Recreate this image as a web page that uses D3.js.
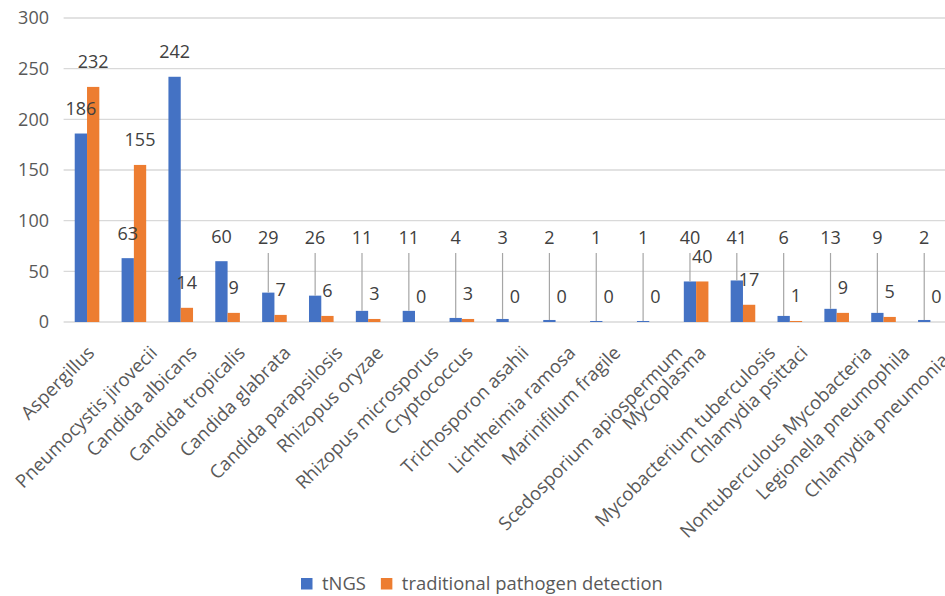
<!DOCTYPE html>
<html>
<head>
<meta charset="utf-8">
<script src="https://cdn.jsdelivr.net/npm/d3@7/dist/d3.min.js"></script>
<style>
  html, body { margin: 0; padding: 0; background: #ffffff; }
  svg { display: block; font-family: "Open Sans", "Noto Sans", sans-serif; }
</style>
</head>
<body>
<svg id="chart" width="945" height="596"></svg>
<script>
// Pathogens detected by each method
const categories = [
  "Aspergillus", "Pneumocystis jirovecii", "Candida albicans", "Candida tropicalis",
  "Candida glabrata", "Candida parapsilosis", "Rhizopus oryzae", "Rhizopus microsporus",
  "Cryptococcus", "Trichosporon asahii", "Lichtheimia ramosa", "Marinifilum fragile",
  "Scedosporium apiospermum", "Mycoplasma", "Mycobacterium tuberculosis", "Chlamydia psittaci",
  "Nontuberculous Mycobacteria", "Legionella pneumophila", "Chlamydia pneumoniae"
];
const tngsValues = [186, 63, 242, 60, 29, 26, 11, 11, 4, 3, 2, 1, 1, 40, 41, 6, 13, 9, 2];
const traditionalValues = [232, 155, 14, 9, 7, 6, 3, 0, 3, 0, 0, 0, 0, 40, 17, 1, 9, 5, 0];
const seriesNames = ["tNGS", "traditional pathogen detection"];
const seriesColors = ["#4472C4", "#ED7D31"];
const yTicks = [0, 50, 100, 150, 200, 250, 300];

const svg = d3.select("#chart");
const W = 945, H = 596;
const plotLeft = 63.6, plotRight = 953.8, plotTop = 18, plotBottom = 322;
const textColor = "#595959", labelColor = "#404040";
const fontSize = 18;

const y = d3.scaleLinear().domain([0, 300]).range([plotBottom, plotTop]);
const x = d3.scaleBand().domain(categories).range([plotLeft, plotRight])
  .paddingInner(0.475).paddingOuter(0.2375);
const xs = d3.scaleBand().domain([0, 1]).range([0, x.bandwidth()]);

// Horizontal gridlines
svg.append("g").selectAll("line").data(yTicks).join("line")
  .attr("x1", plotLeft).attr("x2", W)
  .attr("y1", d => y(d)).attr("y2", d => y(d))
  .attr("stroke", "#d9d9d9").attr("stroke-width", 1.3);

// Value axis labels
const yAxis = d3.axisLeft(y).tickValues(yTicks).tickSize(0).tickPadding(0);
const yg = svg.append("g").attr("transform", "translate(49,0)").call(yAxis);
yg.select(".domain").remove();
yg.selectAll("text").attr("fill", textColor).attr("font-size", fontSize)
  .attr("font-family", "Open Sans, Noto Sans, sans-serif");

// Bars
const series = [tngsValues, traditionalValues];
const rows = [];
series.forEach((vals, s) => vals.forEach((v, i) => rows.push({ s, i, v, cat: categories[i] })));

svg.append("g").selectAll("rect").data(rows).join("rect")
  .attr("x", d => x(d.cat) + xs(d.s))
  .attr("y", d => y(d.v))
  .attr("width", xs.bandwidth())
  .attr("height", d => y(0) - y(d.v))
  .attr("fill", d => seriesColors[d.s]);

// Data labels; small tNGS values are lifted to a common row with leader lines
const liftedRow = 238;
const labels = rows.map(d => {
  const cx = x(d.cat) + xs(d.s) + xs.bandwidth() / 2;
  const top = y(d.v);
  const natural = top - 25;
  let ly = natural, leader = false;
  if (d.s === 0 && natural > liftedRow) {
    ly = liftedRow;
    leader = natural - liftedRow > 5;
  }
  return { ...d, cx, top, ly, leader };
});

svg.append("g").selectAll("line").data(labels.filter(d => d.leader)).join("line")
  .attr("x1", d => d.cx).attr("x2", d => d.cx)
  .attr("y1", d => d.ly + 15).attr("y2", d => d.top)
  .attr("stroke", "#a6a6a6").attr("stroke-width", 1.2);

svg.append("g").selectAll("text").data(labels).join("text")
  .attr("x", d => d.cx).attr("y", d => d.ly).attr("dy", "0.36em")
  .attr("text-anchor", "middle")
  .attr("font-size", fontSize).attr("fill", labelColor)
  .text(d => d.v);

// Rotated category labels, pushed right in proportion to their length
const catG = svg.append("g");
catG.selectAll("text").data(categories).join("text")
  .attr("font-size", 18.6).attr("fill", textColor)
  .attr("text-anchor", "end")
  .text(d => d)
  .each(function (d) {
    const L = this.getComputedTextLength();
    const ex = x(d) + x.bandwidth() / 2 + 0.165 * L - 7;
    const ey = 354;
    d3.select(this).attr("transform", `translate(${ex},${ey}) rotate(-45)`);
  });

// Legend
const legend = svg.append("g");
let lx = 301;
seriesNames.forEach((name, s) => {
  legend.append("rect").attr("x", lx).attr("y", 578).attr("width", 11.5).attr("height", 11.5)
    .attr("fill", seriesColors[s]);
  const t = legend.append("text").attr("x", lx + 21).attr("y", 584).attr("dy", "0.35em")
    .attr("font-size", 18.4).attr("fill", textColor).text(name);
  lx += 21 + t.node().getComputedTextLength() + 15;
});
</script>
</body>
</html>
